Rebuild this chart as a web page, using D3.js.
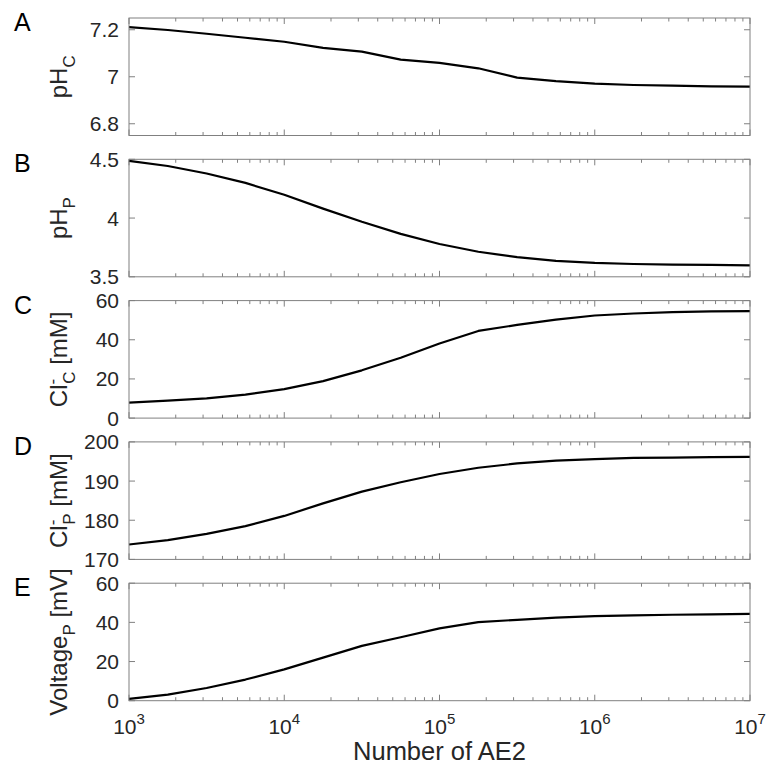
<!DOCTYPE html>
<html>
<head>
<meta charset="utf-8">
<script src="https://d3js.org/d3.v7.min.js"></script>
<style>
body { margin: 0; background: #fff; }
svg { display: block; font-family: "Liberation Sans", Arial, sans-serif; }
.tick-label { fill: #262626; font-size: 21px; }
.axis-label { fill: #262626; font-size: 24px; }
.panel-letter { fill: #000; font-size: 25px; }
</style>
</head>
<body>
<svg id="chart" width="770" height="770"></svg>
<script>
// number of AE2, quarter-decade steps
var ae2 = [1000, 1778, 3162, 5623, 10000, 17783, 31623, 56234, 100000,
           177828, 316228, 562341, 1000000, 1778279, 3162278, 5623413, 10000000];

var phC = [7.211, 7.199, 7.183, 7.166, 7.149, 7.123, 7.107, 7.073, 7.059,
           7.036, 6.996, 6.981, 6.971, 6.965, 6.962, 6.959, 6.958];
var phP = [4.486, 4.443, 4.379, 4.299, 4.198, 4.080, 3.968, 3.865, 3.779,
           3.713, 3.667, 3.635, 3.618, 3.609, 3.603, 3.601, 3.598];
var clC = [7.9, 8.9, 10.1, 12.0, 14.8, 18.9, 24.4, 30.8, 38.1,
           44.5, 47.6, 50.3, 52.4, 53.4, 54.1, 54.5, 54.6];
var clP = [173.8, 174.9, 176.5, 178.5, 181.1, 184.3, 187.3, 189.7, 191.8,
           193.4, 194.5, 195.2, 195.6, 195.9, 196.0, 196.1, 196.2];
var voltP = [0.9, 3.1, 6.5, 10.8, 16.0, 22.0, 28.0, 32.4, 36.9,
             40.1, 41.3, 42.4, 43.2, 43.6, 43.9, 44.1, 44.3];

var xTicks = [1e3, 1e4, 1e5, 1e6, 1e7];
var xTickExp = ["3", "4", "5", "6", "7"];

var letters = ["A", "B", "C", "D", "E"];
var series = [phC, phP, clC, clP, voltP];
var yDomains = [[6.75, 7.25], [3.5, 4.5], [0, 60], [170, 200], [0, 60]];
var yTicks = [[6.8, 7, 7.2], [3.5, 4, 4.5], [0, 20, 40, 60], [170, 180, 190, 200], [0, 20, 40, 60]];
// label pieces: [main, superscript, subscript, rest]
var yLabels = [["pH", "", "C", ""], ["pH", "", "P", ""], ["Cl", "-", "C", " [mM]"],
               ["Cl", "-", "P", " [mM]"], ["Voltage", "", "P", " [mV]"]];

var left = 129, right = 750;
var top0 = 18, step = 141.3, ph = 117.5;
var axisColor = "#808080";

var svg = d3.select("#chart");
var x = d3.scaleLog().domain([1e3, 1e7]).range([left, right]);

// minor ticks 2..9 per decade
var minor = [];
for (var e = 3; e < 7; e++) {
    for (var m = 2; m <= 9; m++) minor.push(m * Math.pow(10, e));
}

series.forEach(function(vals, i) {
    var top = top0 + i * step, bottom = top + ph;
    var y = d3.scaleLinear().domain(yDomains[i]).range([bottom, top]);
    var g = svg.append("g");

    // ticks, inside the box
    g.selectAll(".xmaj").data(xTicks).enter().append("path")
        .attr("d", function(d) {
            var px = x(d);
            return "M" + px + "," + bottom + "v-6M" + px + "," + top + "v6";
        })
        .attr("stroke", axisColor).attr("stroke-width", 1);
    g.selectAll(".xmin").data(minor).enter().append("path")
        .attr("d", function(d) {
            var px = x(d);
            return "M" + px + "," + bottom + "v-3.5M" + px + "," + top + "v3.5";
        })
        .attr("stroke", axisColor).attr("stroke-width", 1);
    g.selectAll(".ytick").data(yTicks[i]).enter().append("path")
        .attr("d", function(d) {
            var py = y(d);
            return "M" + left + "," + py + "h6M" + right + "," + py + "h-6";
        })
        .attr("stroke", axisColor).attr("stroke-width", 1);

    g.selectAll(".ylab").data(yTicks[i]).enter().append("text")
        .attr("class", "tick-label")
        .attr("x", left - 10)
        .attr("y", function(d) { return y(d); })
        .attr("dy", "0.36em")
        .attr("text-anchor", "end")
        .text(function(d) { return String(d); });

    // data line
    g.append("path")
        .datum(ae2)
        .attr("fill", "none")
        .attr("stroke", "#000")
        .attr("stroke-width", 2.2)
        .attr("stroke-linejoin", "round")
        .attr("d", d3.line()
            .x(function(d) { return x(d); })
            .y(function(d, j) { return y(vals[j]); }));

    // box
    g.append("rect")
        .attr("x", left).attr("y", top)
        .attr("width", right - left).attr("height", ph)
        .attr("fill", "none").attr("stroke", axisColor).attr("stroke-width", 1);

    // y label
    var lab = yLabels[i];
    var t = g.append("text")
        .attr("class", "axis-label")
        .attr("text-anchor", "middle")
        .attr("transform", "translate(67," + (top + ph / 2) + ") rotate(-90)");
    t.append("tspan").text(lab[0]);
    if (lab[1]) {
        t.append("tspan").attr("font-size", "17px").attr("dy", "-9").text(lab[1]);
        t.append("tspan").attr("font-size", "17px").attr("dx", "-5").attr("dy", "17").text(lab[2]);
    } else {
        t.append("tspan").attr("font-size", "17px").attr("dy", "8").text(lab[2]);
    }
    if (lab[3]) t.append("tspan").attr("dy", "-8").text(lab[3]);

    g.append("text")
        .attr("class", "panel-letter")
        .attr("x", 14).attr("y", top + 13)
        .text(letters[i]);

    if (i === series.length - 1) {
        var xl = g.selectAll(".xlab").data(xTicks).enter().append("text")
            .attr("class", "tick-label")
            .attr("x", function(d) { return x(d); })
            .attr("y", bottom + 33)
            .attr("text-anchor", "middle");
        xl.append("tspan").text("10");
        xl.append("tspan").attr("font-size", "15px").attr("dy", "-10")
            .text(function(d, j) { return xTickExp[j]; });

        g.append("text")
            .attr("class", "axis-label")
            .attr("x", (left + right) / 2)
            .attr("y", bottom + 59)
            .attr("text-anchor", "middle")
            .style("font-size", "25.5px")
            .text("Number of AE2");
    }
});
</script>
</body>
</html>
